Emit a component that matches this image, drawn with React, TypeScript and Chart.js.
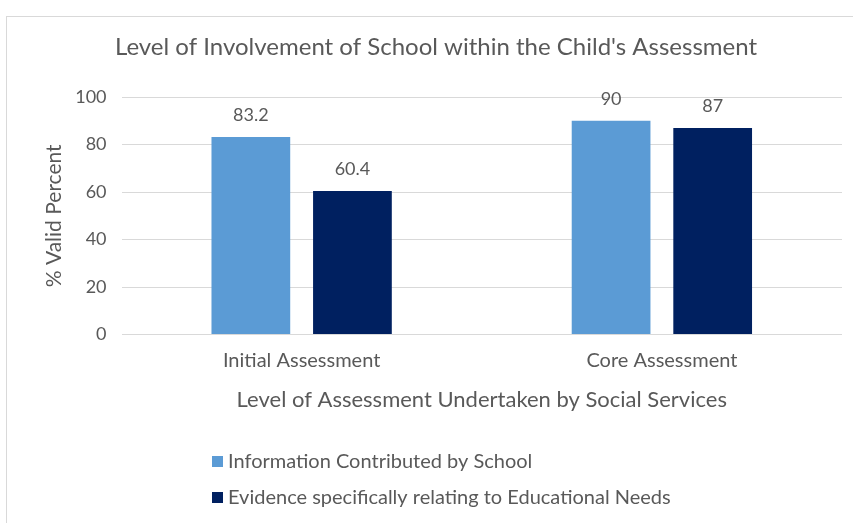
import React, { useEffect, useRef } from "react";
import { Chart, registerables } from "chart.js";

Chart.register(...registerables);

const chartTitle = "Level of Involvement of School within the Child's Assessment";
const categories = ["Initial Assessment", "Core Assessment"];
const seriesNames = ["Information Contributed by School", "Evidence specifically relating to Educational Needs"];
const schoolInfo = [83.2, 90];
const educationalEvidence = [60.4, 87];
const seriesColors = ["#5B9BD5", "#002060"];
const yTicks = [0, 20, 40, 60, 80, 100];

const TEXT = "#595959";
const FONT = "Lato, 'Open Sans', sans-serif";

const labelsPlugin = {
  id: "valueLabels",
  afterDatasetsDraw(chart: any) {
    const ctx = chart.ctx;
    ctx.save();
    ctx.fillStyle = TEXT;
    ctx.font = `18px ${FONT}`;
    ctx.textAlign = "center";
    ctx.textBaseline = "middle";
    chart.data.datasets.forEach((ds: any, i: number) => {
      const meta = chart.getDatasetMeta(i);
      meta.data.forEach((bar: any, j: number) => {
        ctx.fillText(String(ds.data[j]), bar.x, bar.y - 22);
      });
    });
    ctx.restore();
  },
};

const titleAndLegendPlugin = {
  id: "titleAndLegend",
  afterDraw(chart: any) {
    const ctx = chart.ctx;
    ctx.save();
    ctx.fillStyle = TEXT;
    ctx.font = `24px ${FONT}`;
    ctx.textAlign = "center";
    ctx.textBaseline = "middle";
    ctx.fillText(chartTitle, 436, 47);

    ctx.font = `20px ${FONT}`;
    const x0 = 212;
    const rows = [462, 498];
    chart.data.datasets.forEach((ds: any, i: number) => {
      const y = rows[i];
      ctx.fillStyle = ds.backgroundColor;
      ctx.fillRect(x0, y - 6, 11, 11);
      ctx.fillStyle = TEXT;
      ctx.textAlign = "left";
      ctx.fillText(ds.label, x0 + 16, y);
    });
    ctx.restore();
  },
};

export default function App() {
  const ref = useRef<HTMLCanvasElement | null>(null);

  useEffect(() => {
    if (!ref.current) return;
    const chart = new Chart(ref.current, {
      type: "bar",
      data: {
        labels: categories,
        datasets: [
          { label: seriesNames[0], data: schoolInfo, backgroundColor: seriesColors[0] },
          { label: seriesNames[1], data: educationalEvidence, backgroundColor: seriesColors[1] },
        ],
      },
      options: {
        animation: false,
        responsive: false,
        maintainAspectRatio: false,
        datasets: {
          bar: { categoryPercentage: 0.564, barPercentage: 0.775 },
        },
        layout: { padding: { left: 40, right: 11, top: 97, bottom: 110 } },
        plugins: {
          legend: { display: false },
          tooltip: { enabled: false },
          title: { display: false },
        },
        scales: {
          x: {
            grid: { display: false, drawTicks: false },
            border: { display: false },
            ticks: { color: TEXT, font: { family: FONT, size: 20 }, padding: 14 },
            title: {
              display: true,
              text: "Level of Assessment Undertaken by Social Services",
              color: TEXT,
              font: { family: FONT, size: 22 },
              padding: { top: 0, bottom: 0 },
            },
          },
          y: {
            min: 0,
            max: 100,
            afterBuildTicks(axis: any) {
              axis.ticks = yTicks.map((v) => ({ value: v }));
            },
            grid: { color: "#d9d9d9", drawTicks: false, lineWidth: 1 },
            border: { display: false },
            ticks: { color: TEXT, font: { family: FONT, size: 18 }, padding: 15 },
            title: {
              display: true,
              text: "% Valid Percent",
              color: TEXT,
              font: { family: FONT, size: 21 },
              padding: { top: 2, bottom: -7 },
            },
          },
        },
      },
      plugins: [labelsPlugin, titleAndLegendPlugin],
    });
    return () => chart.destroy();
  }, []);

  return (
    <div style={{ position: "fixed", left: 0, top: 0, width: 853, height: 523, overflow: "hidden", background: "#fff" }}>
      <div style={{ position: "absolute", left: 6, top: 16, width: 880, height: 560, border: "1px solid #d9d9d9", boxSizing: "border-box" }} />
      <canvas ref={ref} width={853} height={523} style={{ position: "absolute", left: 0, top: 0 }} />
    </div>
  );
}
